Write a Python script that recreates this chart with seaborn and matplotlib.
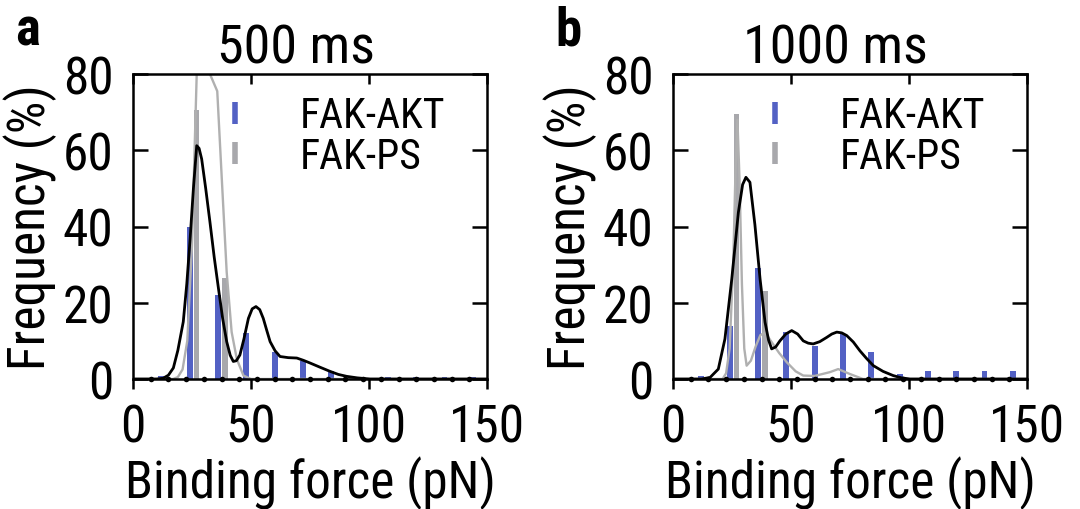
import matplotlib
matplotlib.use("Agg")
import matplotlib.pyplot as plt
from matplotlib.lines import Line2D
import numpy as np
import pandas as pd
import seaborn as sns

# ---------------- data ----------------
bin_centers_akt = [12, 24, 36, 48, 60, 72, 84, 96, 108, 120, 132, 144]
bin_centers_ps = [15, 27, 39, 51, 63, 75, 87, 99, 111, 123, 135, 147]

akt_500 = [0.8, 40, 22, 12, 7.2, 4.8, 2.0, 0, 0.5, 0.5, 0.5, 0.5]
ps_500 = [0, 70.5, 26.5, 0, 0, 0, 0, 0, 0, 0, 0, 0]
akt_1000 = [0.8, 14, 29, 12.2, 8.7, 11.8, 7.0, 1.3, 2.2, 2.2, 2.2, 2.2]
ps_1000 = [0, 69.5, 23.2, 0, 0, 0, 0, 0, 0, 0, 0, 0]

fit_akt_500_x = [0, 10, 12.8, 15, 17.1, 19, 21.3, 22.8, 24.2, 25.6, 27.0, 28.0, 29.1, 30.8,
                 32.6, 34.4, 36.2, 38.0, 39.7, 41.2, 42.5, 43.8, 45.3, 47.0, 48.9, 50.5,
                 52.1, 53.7, 55.2, 56.7, 58.1, 60.2, 62.3, 65.8, 69.4, 72.2, 75.0, 79.2,
                 83.5, 87.0, 90.5, 95.0, 100.4, 150]
fit_akt_500_y = [0, 0, 0.2, 1.0, 2.9, 7.5, 15.0, 25.0, 36.8, 50.0, 61.2, 60.5, 57.7, 50.0,
                 41.2, 32.0, 23.8, 15.8, 9.8, 6.2, 4.6, 4.8, 6.3, 10.5, 15.9, 18.4,
                 19.0, 18.2, 15.9, 12.7, 9.8, 7.4, 5.9, 5.6, 5.5, 4.9, 4.2, 3.1,
                 2.0, 1.2, 0.7, 0.3, 0, 0]

fit_ps_500_x = [0, 17, 19, 21, 23, 25, 26, 27, 28, 29.5, 32.6, 35.7, 37.5, 39.7, 41.8,
                44.0, 46.8, 50, 150]
fit_ps_500_y = [0, 0, 0.5, 2.5, 10, 35, 58, 80, 92, 88, 80, 75.5, 54, 28, 12.3,
                5.2, 0.9, 0, 0]

fit_akt_1000_x = [0, 12, 15.7, 19.2, 22.0, 24.9, 27.7, 29.5, 30.9, 32.6, 34.7, 36.9, 39.0,
                  40.5, 41.8, 43.5, 45.3, 47.8, 50.3, 52.8, 55.2, 57.3, 59.4, 62.2, 65.1,
                  67.3, 69.4, 71.5, 73.6, 76.4, 79.2, 82.0, 84.9, 89.0, 93.3, 96.8,
                  100.4, 150]
fit_akt_1000_y = [0, 0, 0.4, 2.6, 10.5, 26.2, 43.7, 51.0, 52.9, 51.6, 40.5, 26.2, 14.9,
                  10.2, 7.9, 8.4, 10.0, 11.8, 12.7, 11.8, 10.0, 9.4, 9.2, 9.8, 10.9,
                  11.8, 12.3, 12.1, 11.4, 9.7, 7.4, 5.4, 3.5, 2.0, 0.9, 0.3, 0, 0]

fit_ps_1000_x = [0, 21, 22.5, 24, 25.5, 26.5, 27.3, 28.2, 29.2, 30.2, 31.2, 33, 35, 37, 39,
                 42, 45, 48.2, 52, 55.2, 60, 66.5, 70, 75, 80.5, 150]
fit_ps_1000_y = [0, 0, 1.5, 8, 30, 55, 68, 52, 25, 8, 3.5, 4.8, 8.5, 11.5, 12.2,
                 9.5, 6.8, 4.4, 2.0, 0.9, 0.8, 1.8, 2.6, 1.3, 0, 0]

axis_dots_x = [7.5, 15, 22.5, 30, 37.5, 45, 52.5, 60, 67.5, 75, 82.5, 90, 97.5,
               105, 112.5, 120, 127.5, 135, 142.5]

panels = [
    dict(letter="a", title="500 ms", akt=akt_500, ps=ps_500,
         fa_x=fit_akt_500_x, fa_y=fit_akt_500_y, fp_x=fit_ps_500_x, fp_y=fit_ps_500_y),
    dict(letter="b", title="1000 ms", akt=akt_1000, ps=ps_1000,
         fa_x=fit_akt_1000_x, fa_y=fit_akt_1000_y, fp_x=fit_ps_1000_x, fp_y=fit_ps_1000_y),
]

x_ticks = [0, 50, 100, 150]
y_ticks = [0, 20, 40, 60, 80]
legend_labels = ["FAK-AKT", "FAK-PS"]

# ---------------- style ----------------
sns.set_theme(style="white")
FONT = ["Roboto Condensed", "DejaVu Sans"]
plt.rcParams["font.family"] = FONT
plt.rcParams["axes.linewidth"] = 1.8
plt.rcParams["text.color"] = "black"

BLUE = "#5361c4"
GREY = "#a8a8ac"

fig = plt.figure(figsize=(10.8, 5.1), dpi=100)
W, H = 1080, 510
axes_px = [(133, 75, 487, 380), (673, 75, 1027, 380)]

for (x0, y0, x1, y1), p in zip(axes_px, panels):
    ax = fig.add_axes([x0 / W, 1 - y1 / H, (x1 - x0) / W, (y1 - y0) / H])
    dfa = pd.DataFrame({"x": bin_centers_akt, "y": p["akt"]})
    dfp = pd.DataFrame({"x": bin_centers_ps, "y": p["ps"]})
    sns.barplot(data=dfa, x="x", y="y", native_scale=True, width=0.21,
                color=BLUE, saturation=1, linewidth=0, ax=ax, zorder=2)
    sns.barplot(data=dfp, x="x", y="y", native_scale=True, width=0.19,
                color=GREY, saturation=1, linewidth=0, ax=ax, zorder=2)
    sns.lineplot(x=p["fp_x"], y=p["fp_y"], color="#b0b0b0", lw=1.7, ax=ax,
                 zorder=3, sort=False)
    sns.lineplot(x=p["fa_x"], y=p["fa_y"], color="black", lw=2.0, ax=ax,
                 zorder=4, sort=False)
    sns.scatterplot(x=axis_dots_x, y=[0] * len(axis_dots_x), color="black", s=16,
                    linewidth=0, ax=ax, zorder=5, clip_on=False)

    ax.set_xlim(0, 150)
    ax.set_ylim(0, 80)
    ax.set_xticks(x_ticks)
    ax.set_yticks(y_ticks)
    ax.tick_params(axis="x", which="both", bottom=True, top=True, direction="out",
                   length=7, width=1.8, labelsize=37, pad=10, colors="black")
    ax.tick_params(axis="x", top=True, labeltop=False)
    ax.tick_params(axis="y", left=True, right=True, direction="in", length=11,
                   width=1.8, labelsize=37, pad=14, colors="black")
    # top ticks point inward
    for t in ax.xaxis.get_major_ticks():
        t.tick2line.set_marker(3)  # TICKDOWN
        t.tick2line.set_markersize(7)
    for s in ax.spines.values():
        s.set_color("black")
        s.set_linewidth(1.8)
        s.set_zorder(6)
    ax.set_xlabel("Binding force (pN)", fontsize=37, labelpad=2, color="black")
    ax.set_ylabel("Frequency (%)", fontsize=37, labelpad=4, color="black")
    ax.set_title(p["title"], fontsize=39, pad=8, x=0.46, color="black")

    handles = [Line2D([0], [0], color=BLUE, marker="|", markersize=16, mew=4,
                      linestyle="None"),
               Line2D([0], [0], color=GREY, marker="|", markersize=16, mew=4,
                      linestyle="None")]
    ax.legend(handles, legend_labels, loc="upper left", bbox_to_anchor=(0.23, 0.93),
              frameon=False, fontsize=30, handlelength=1.0, handletextpad=1.05,
              labelspacing=-0.02, borderaxespad=0, borderpad=0, labelcolor="black")

    fig.text((x0 - 118) / W, 1 - 45 / H, p["letter"], fontsize=38, fontweight="bold",
             ha="left", va="baseline", color="black")

fig.savefig("out.png", dpi=100)
